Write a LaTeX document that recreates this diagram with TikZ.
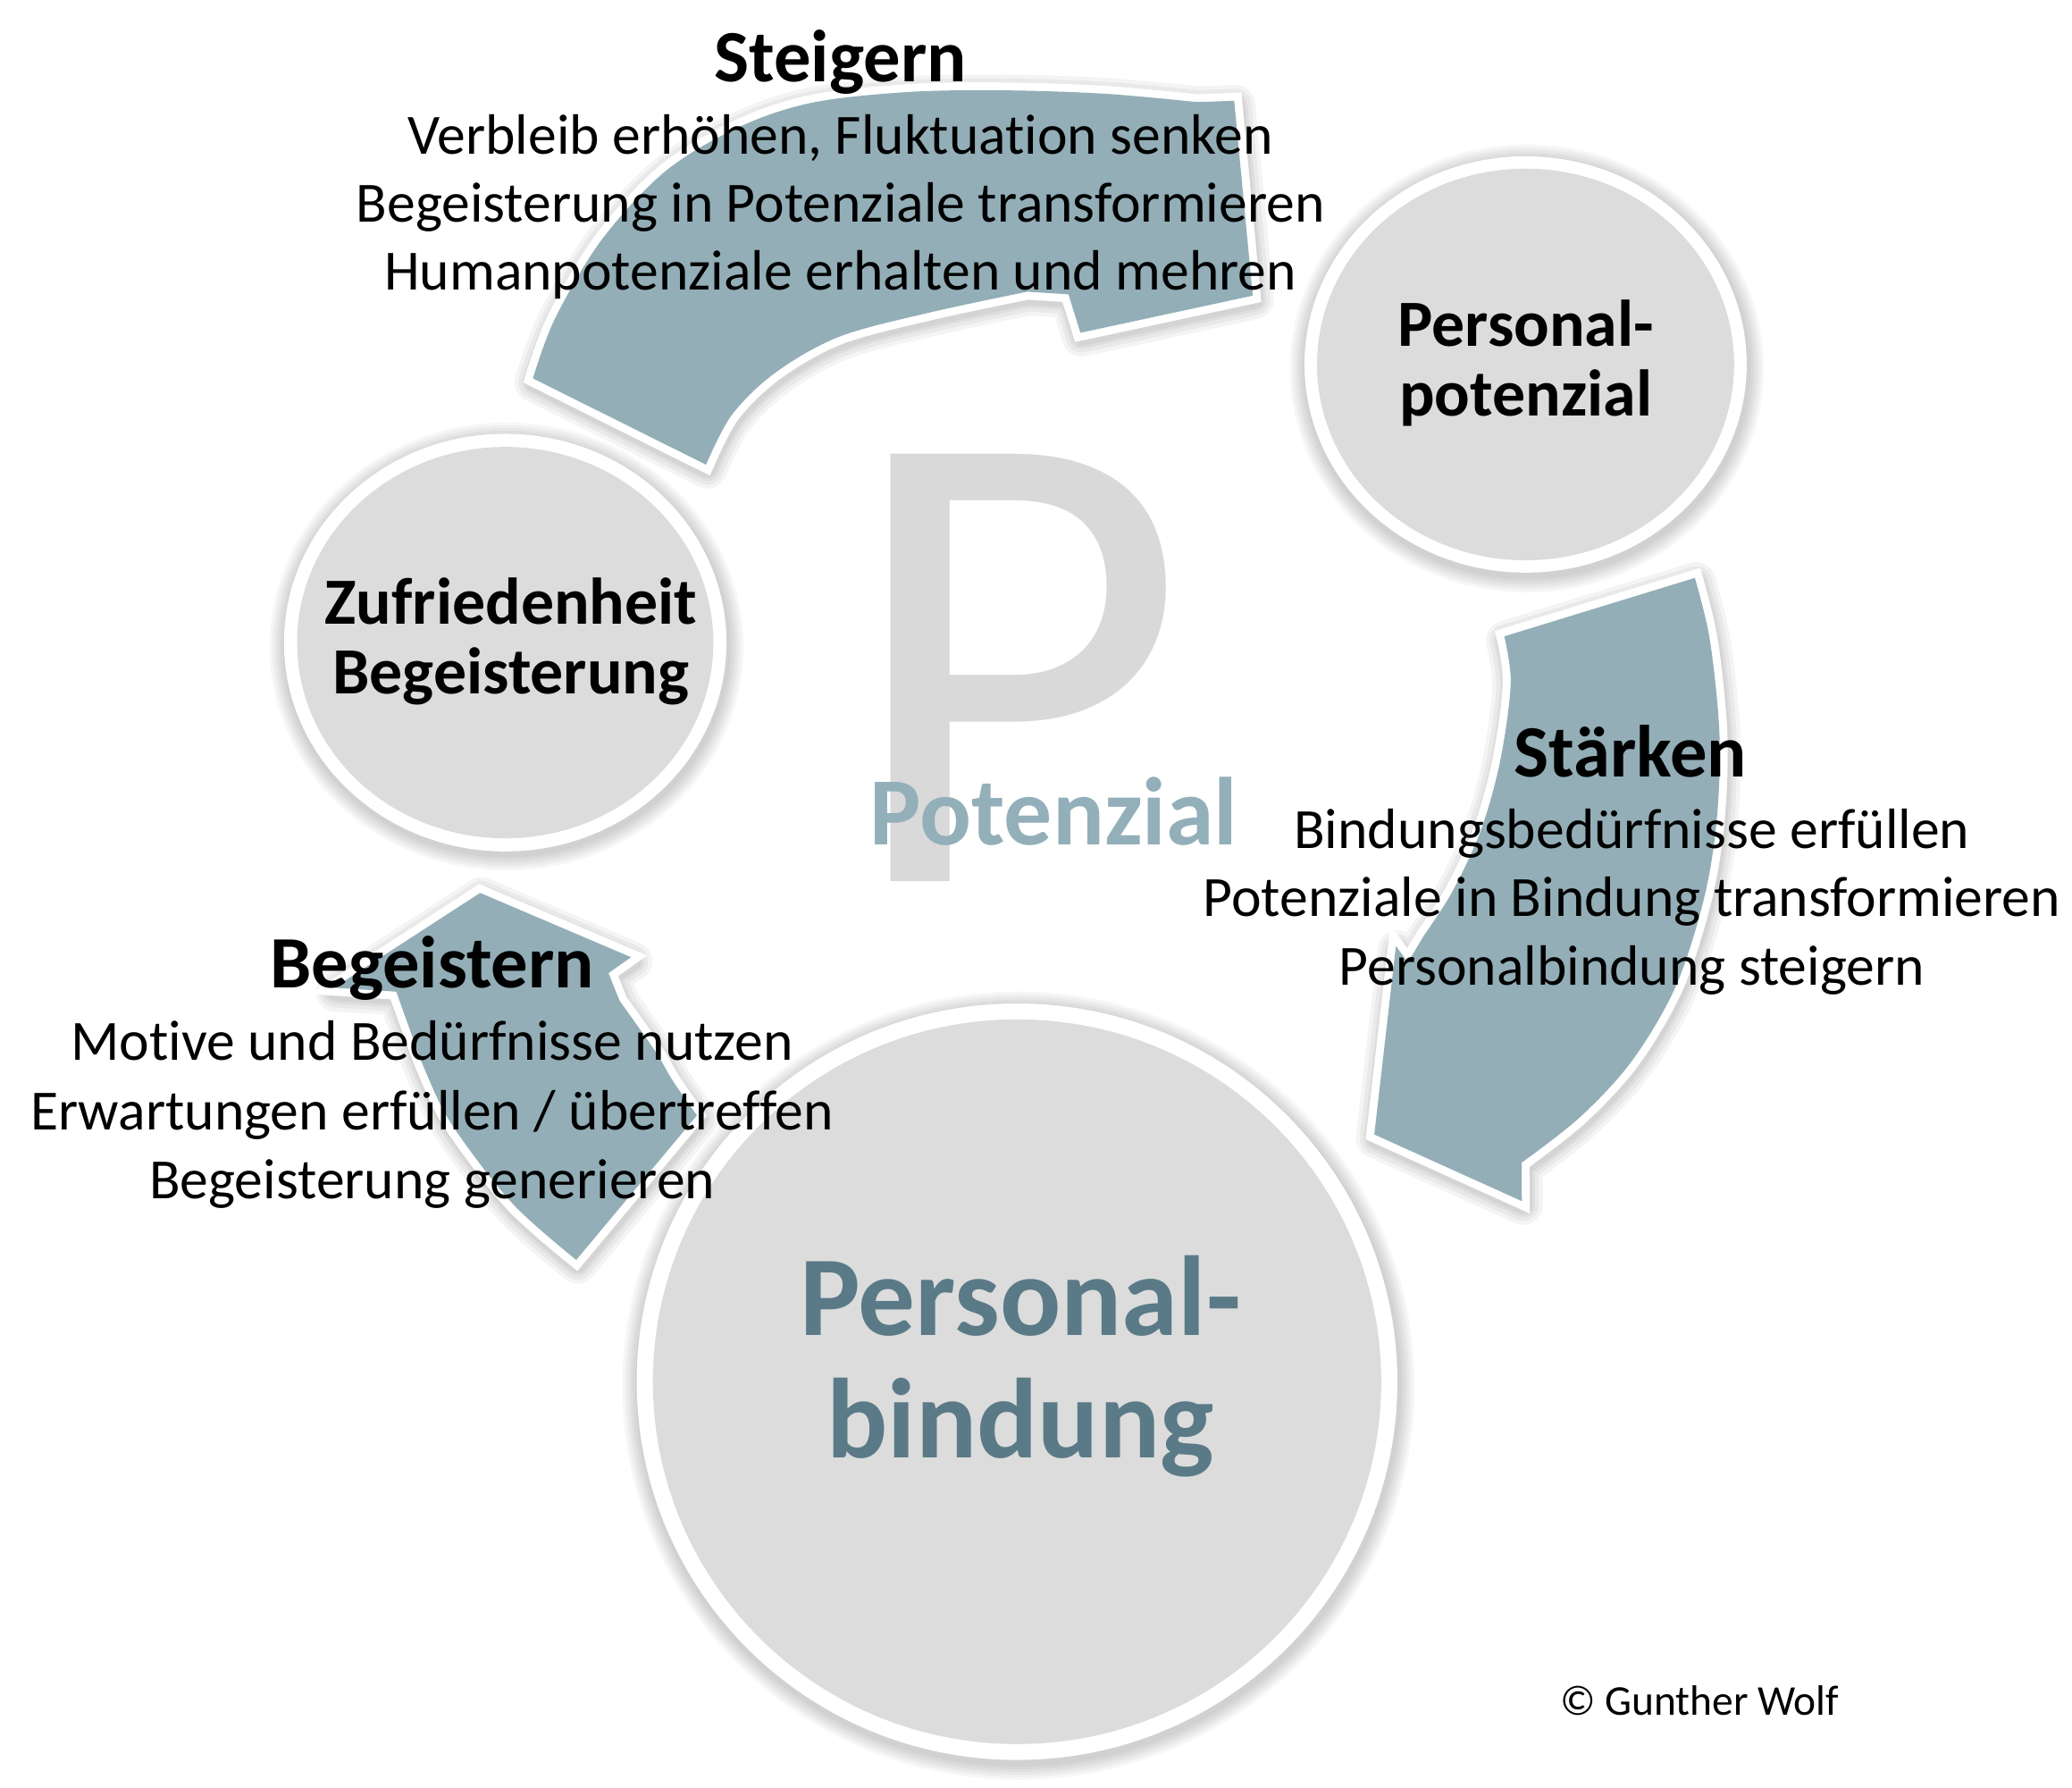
\documentclass[tikz,border=0pt]{standalone}
\usepackage{fontspec}
\setmainfont{Carlito}[Ligatures={NoCommon}]
\definecolor{arrowfill}{RGB}{147,174,183}
\definecolor{circfill}{RGB}{220,220,220}
\definecolor{pgray}{RGB}{217,217,217}
\definecolor{potblue}{RGB}{147,175,185}
\definecolor{bindblue}{RGB}{90,122,135}
\begin{document}
\begin{tikzpicture}[x=0.014837cm, y=-0.014837cm,
  arrowTop/.style={insert path={plot[smooth, tension=0.55] coordinates {(402,285.4) (418.7,240.2) (453.8,181) (501.9,129.2) (557.4,95.9) (612.9,77.4) (686.9,69.3) (760.9,68.2) (834.9,70.8) (903,77)} -- (931,76) -- (945,223) -- (815,251) -- (806,222) -- plot[smooth, tension=0.55] coordinates {(775,220) (700,236) (633,254) (585,281) (552,313) (532.6,350.5)} -- cycle}},
  arrowRight/.style={insert path={(1134.7,480) -- plot[smooth, tension=0.55] coordinates {(1278.5,435.9) (1289.9,483.2) (1297.1,555.1) (1294.8,620.5) (1285,679.3) (1263.8,744.6) (1231.1,800.1) (1191.9,842.6) (1147.8,877)} -- (1148,906) -- (1036.7,855.7) -- (1053,713.6) -- (1062,726) -- plot[smooth, tension=0.55] coordinates {(1074.3,705.4) (1095.5,672.7) (1116.8,627) (1131.5,574.7) (1139.6,515.9) (1134.7,480)} -- cycle}},
  arrowLeft/.style={insert path={plot[smooth, tension=0.55] coordinates {(434.7,950.3) (386.4,907.6) (341.5,849.2) (321.3,808.8) (307.8,772.8) (299,748)} -- (252,745) -- (362.2,673.5) -- (476,722) -- (459,734) -- plot[smooth, tension=0.55] coordinates {(467.4,754.9) (494.3,793) (507.7,815.5) (525.7,841.3)} -- cycle}},
  shadowstroke/.style={draw=black, opacity=0.045, line join=round, shift={(1,3)}},
  whiteborder/.style={draw=white, line width=5.05pt, line join=miter, fill=white},
  blockfill/.style={fill=arrowfill},
  titletext/.style={font=\fontsize{23.5}{28}\selectfont\bfseries, anchor=base, inner sep=0pt},
  linetext/.style={font=\fontsize{18.1}{22}\selectfont, anchor=base, inner sep=0pt},
  circtext/.style={font=\fontsize{21}{25}\selectfont\bfseries, anchor=base, inner sep=0pt},
  bigtext/.style={font=\fontsize{36.2}{40}\selectfont\bfseries, text=bindblue, anchor=base, inner sep=0pt},
  pottext/.style={font=\fontsize{30.7}{34}\selectfont\bfseries, text=potblue, anchor=base, inner sep=0pt},
  bigp/.style={font=\fontsize{212}{212}\selectfont, text=pgray, anchor=base, inner sep=0pt},
  copytext/.style={font=\fontsize{13.5}{16}\selectfont, anchor=base, inner sep=0pt}
]
\useasboundingbox (0,0) rectangle (1563,1348);
\fill[white] (0,0) rectangle (1563,1348);

% ---------- shadows ----------
\foreach \k in {1,...,6} {
  \pgfmathsetmacro\ax{166.8+2*\k}\pgfmathsetmacro\ay{157+2*\k}
  \fill[black, opacity=0.03] (1151.8,277.9) ellipse [x radius=\ax, y radius=\ay];
  \fill[black, opacity=0.03] (382.1,487.7) ellipse [x radius=\ax, y radius=\ay];
  \pgfmathsetmacro\bx{286.9+2*\k}\pgfmathsetmacro\by{285.3+2*\k}
  \fill[black, opacity=0.03] (768.2,1045.2) ellipse [x radius=\bx, y radius=\by];
}
\foreach \w in {12.6,10.1,7.6,5.9} {
  \path[shadowstroke, line width=\w pt, arrowTop];
  \path[shadowstroke, line width=\w pt, arrowRight];
  \path[shadowstroke, line width=\w pt, arrowLeft];
}

% ---------- circles ----------
\fill[white] (1150.8,274.9) ellipse [x radius=166.8, y radius=157];
\fill[circfill] (1150.8,274.9) ellipse [x radius=157.3, y radius=147.7];
\fill[white] (381.1,484.7) ellipse [x radius=166.9, y radius=157.5];
\fill[circfill] (381.1,484.7) ellipse [x radius=157, y radius=147.6];
\fill[white] (767.2,1042.2) ellipse [x radius=286.9, y radius=285.3];
\fill[circfill] (767.2,1042.2) ellipse [x radius=274.7, y radius=273.3];

% ---------- arrows ----------
\path[whiteborder, arrowTop];
\path[whiteborder, arrowRight];
\path[whiteborder, arrowLeft];
\path[blockfill, arrowTop];
\path[blockfill, arrowRight];
\path[blockfill, arrowLeft];

% ---------- centre letter ----------
\node[bigp] (bigP) at (766,665) {P};
\node[pottext] (potenzial) at (795,637) {Potenzial};

% ---------- circle texts ----------
\node[circtext] (pp1) at (1151,261.3) {Personal-};
\node[circtext] (pp2) at (1151,313.5) {potenzial};
\node[circtext] (zb1) at (385.5,471.1) {Zufriedenheit};
\node[circtext] (zb2) at (385.5,523.4) {Begeisterung};
\node[bigtext] (pb1) at (769.7,1007.6) {Personal-};
\node[bigtext] (pb2) at (769.7,1099.3) {bindung};

% ---------- Steigern ----------
\node[titletext] (steigern) at (634,62) {Steigern};
\node[linetext] (st1) at (634,116) {Verbleib erhöhen, Fluktuation senken};
\node[linetext] (st2) at (634,167.5) {Begeisterung in Potenziale transformieren};
\node[linetext] (st3) at (634,219) {Humanpotenziale erhalten und mehren};

% ---------- Stärken ----------
\node[titletext] (staerken) at (1230,586) {Stärken};
\node[linetext] (sk1) at (1231,640) {Bindungsbedürfnisse erfüllen};
\node[linetext] (sk2) at (1231,691.5) {Potenziale in Bindung transformieren};
\node[linetext] (sk3) at (1231,743) {Personalbindung steigern};

% ---------- Begeistern ----------
\node[titletext] (begeistern) at (326,745) {Begeistern};
\node[linetext] (bg1) at (326,800) {Motive und Bedürfnisse nutzen};
\node[linetext] (bg2) at (326,852) {Erwartungen erfüllen / übertreffen};
\node[linetext] (bg3) at (326,904) {Begeisterung generieren};

% ---------- copyright ----------
\node[copytext] (copy) at (1282,1294) {© Gunther Wolf};
\end{tikzpicture}
\end{document}
